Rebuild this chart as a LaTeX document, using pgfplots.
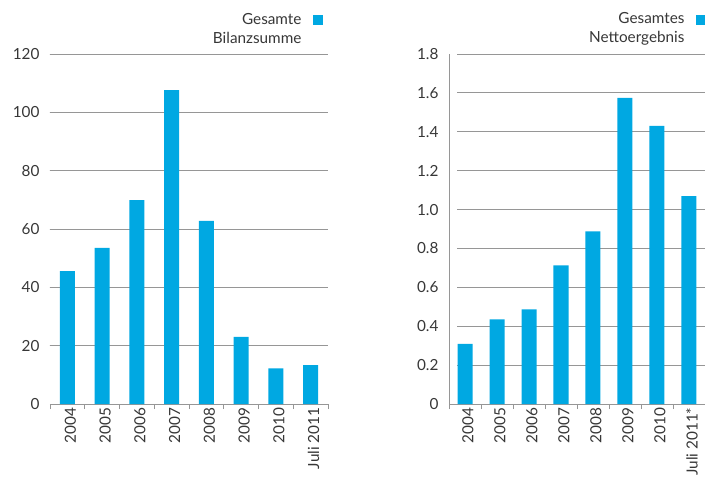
\documentclass[border=0pt]{standalone}
\usepackage{fontspec}
\setmainfont{Lato}
\usepackage{pgfplots}
\pgfplotsset{compat=1.18}
\definecolor{barblue}{RGB}{0,168,226}
\definecolor{gridgray}{RGB}{150,150,150}
\definecolor{txtgray}{RGB}{55,55,55}
\newcommand{\lbl}{\fontsize{15.3}{18}\selectfont}

\pgfplotsset{
  panel/.style={
    scale only axis, height=350pt,
    ybar, bar width=15pt,
    xmin=-0.5, xmax=7.5, ymin=0,
    axis x line*=bottom, axis y line*=left,
    axis line style={gridgray, line width=0.8pt},
    xtick={0,...,7},
    major tick length=0pt,
    minor xtick={-0.5,0.5,...,7.5},
    minor tick length=5pt,
    minor x tick style={gridgray, line width=0.8pt},
    tick align=outside,
    x tick label style={rotate=90, anchor=east, font=\lbl, text=txtgray, yshift=-3pt},
    y tick label style={font=\lbl, text=txtgray, xshift=-7pt},
  },
  bars/.style={fill=barblue, draw=none},
}

\begin{document}
\begin{tikzpicture}
% Gesamte Bilanzsumme
\begin{axis}[panel, width=278pt, at={(0pt,0pt)}, anchor=south west,
  ymax=120, ytick={0,20,40,60,80,100,120},
  yticklabels={0,20,40,60,80,100,120},
  y axis line style={draw=none},
  xticklabels={2004,2005,2006,2007,2008,2009,2010,Juli 2011}]
  \pgfplotsinvokeforeach{20,40,60,80,100,120}{
    \draw[gridgray, line width=0.8pt] ([xshift=-6pt]axis cs:-0.5,#1) -- (axis cs:7.5,#1);
  }
  \addplot[bars] coordinates {(0,45.6) (1,53.5) (2,69.9) (3,107.6) (4,62.8) (5,23.0) (6,12.2) (7,13.3)};
\end{axis}
\node[anchor=base east, font=\lbl, text=txtgray] at (255pt,379pt) {Gesamte};
\node[anchor=base east, font=\lbl, text=txtgray] at (255pt,360pt) {Bilanzsumme};
\fill[barblue] (263pt,379pt) rectangle (273pt,389pt);

% Gesamtes Nettoergebnis
\begin{axis}[panel, width=256pt, at={(399pt,0pt)}, anchor=south west,
  ymax=1.8, ytick={0,0.2,0.4,0.6,0.8,1.0,1.2,1.4,1.6,1.8},
  yticklabels={0,0.2,0.4,0.6,0.8,1.0,1.2,1.4,1.6,1.8},
  xticklabels={2004,2005,2006,2007,2008,2009,2010,Juli 2011*}]
  \pgfplotsinvokeforeach{0.2,0.4,0.6,0.8,1.0,1.2,1.4,1.6,1.8}{
    \draw[gridgray, line width=0.8pt] ([xshift=8pt]axis cs:-0.5,#1) -- (axis cs:7.5,#1);
  }
  \draw[gridgray, line width=0.8pt] ([xshift=-5pt]axis cs:-0.5,0) -- (axis cs:-0.5,0);
  \addplot[bars] coordinates {(0,0.309) (1,0.435) (2,0.486) (3,0.713) (4,0.888) (5,1.574) (6,1.430) (7,1.069)};
\end{axis}
\node[anchor=base east, font=\lbl, text=txtgray] at (638pt,380pt) {Gesamtes};
\node[anchor=base east, font=\lbl, text=txtgray] at (638pt,361pt) {Nettoergebnis};
\fill[barblue] (646pt,379pt) rectangle (655pt,389pt);

\pgfresetboundingbox
\path (-50pt,-73pt) rectangle (655pt,404pt);
\end{tikzpicture}
\end{document}
